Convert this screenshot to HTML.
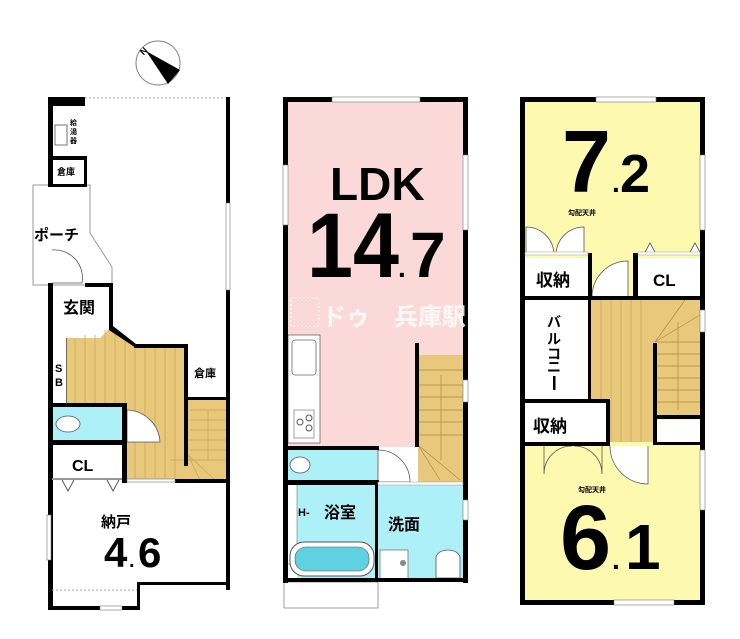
<!DOCTYPE html>
<html><head><meta charset="utf-8"><style>
html,body{margin:0;padding:0;background:#fff;}
svg{display:block;}
text{font-family:"Liberation Sans","Noto Sans CJK JP",sans-serif;font-weight:bold;fill:#000;}
</style></head><body>
<svg width="740" height="639" viewBox="0 0 740 639" xmlns="http://www.w3.org/2000/svg">
<circle cx="158" cy="63" r="22" fill="#fff" stroke="#888" stroke-width="1"/>
<polygon points="146,51 180,70 168,84" fill="#000"/>
<text x="140" y="53" font-size="9" transform="rotate(-45 145 50)">N</text>

<g>
<polygon points="33,185 90,185 90,233 112,267 112,285 33,285" fill="#fff" stroke="#999" stroke-width="1"/>
<line x1="85" y1="98" x2="229" y2="98" stroke="#aaa" stroke-dasharray="2,2"/>
<polygon points="66,338 66,405 127,405 127,480 229,480 229,398 186,398 186,347 135,347 110,328 100,338" fill="#e8c87a"/>
<g stroke="#c9a455" stroke-width="0.7">
<line x1="75" y1="338" x2="75" y2="405"/><line x1="85" y1="335" x2="85" y2="405"/><line x1="95" y1="335" x2="95" y2="405"/>
<line x1="105" y1="330" x2="105" y2="405"/><line x1="115" y1="332" x2="115" y2="405"/><line x1="125" y1="340" x2="125" y2="405"/>
<line x1="135" y1="347" x2="135" y2="480"/><line x1="145" y1="347" x2="145" y2="480"/><line x1="155" y1="347" x2="155" y2="480"/>
<line x1="165" y1="347" x2="165" y2="480"/><line x1="175" y1="347" x2="175" y2="480"/>
<line x1="190" y1="410" x2="226" y2="410"/><line x1="190" y1="420" x2="226" y2="420"/><line x1="190" y1="430" x2="226" y2="430"/>
<line x1="190" y1="440" x2="226" y2="440"/><line x1="190" y1="450" x2="226" y2="450"/><line x1="170" y1="460" x2="226" y2="460"/>
<line x1="188" y1="455" x2="215" y2="480"/><line x1="188" y1="455" x2="200" y2="480"/><line x1="208" y1="410" x2="208" y2="460"/>
</g>
<rect x="52" y="406" width="73" height="37" fill="#aef0f8"/>
<ellipse cx="68" cy="424" rx="12" ry="8" fill="#fff" stroke="#555" stroke-width="0.8"/>
<path d="M127,410 A34,34 0 0 1 160,442 L127,442 Z" fill="#fff" stroke="#555" stroke-width="0.8"/>
<g fill="#000">
<rect x="48" y="97" width="37" height="9"/>
<rect x="48" y="97" width="5" height="90"/>
<rect x="52" y="156" width="35" height="4"/>
<rect x="84" y="156" width="3" height="30"/>
<rect x="48" y="184" width="39" height="3"/>
<rect x="226" y="97" width="4" height="107"/>
<rect x="226" y="290" width="4" height="300"/>
<rect x="48" y="283" width="5" height="327"/>
<rect x="85" y="283" width="28" height="4"/>
<rect x="109" y="283" width="4" height="46"/>
<polygon points="109,326 113,326 136,344 136,348 109,330"/>
<rect x="134" y="344" width="54" height="4"/>
<rect x="184" y="344" width="4" height="122"/>
<rect x="52" y="403" width="75" height="4"/>
<rect x="52" y="440" width="75" height="5"/>
<rect x="122" y="403" width="5" height="80"/>
<rect x="175" y="479" width="55" height="4"/>
<rect x="138" y="582" width="92" height="3"/>
<rect x="137" y="582" width="3" height="28"/>
<rect x="48" y="606" width="92" height="4"/>
</g>
<rect x="55" y="125" width="12" height="20" fill="#fff" stroke="#555" stroke-width="0.8"/>
<rect x="226" y="203" width="4" height="87" fill="#fff" stroke="#777" stroke-width="0.6"/>
<rect x="66" y="338" width="0.8" height="66" fill="#555"/>
<rect x="188" y="397" width="38" height="3" fill="#000"/>
<rect x="127" y="479" width="48" height="3" fill="#fff" stroke="#777" stroke-width="0.6"/>
<rect x="52" y="478" width="70" height="2" fill="#999"/>
<path d="M62,480 L68,491 L74,480 M107,480 L113,491 L119,480" fill="none" stroke="#555"/>
<rect x="47" y="515" width="4" height="45" fill="#fff" stroke="#777" stroke-width="0.6"/>
<rect x="100" y="606" width="22" height="4" fill="#fff" stroke="#777" stroke-width="0.6"/>
<line x1="52" y1="590" x2="137" y2="590" stroke="#aaa" stroke-dasharray="2,2"/>
<path d="M52,250 A28,28 0 0 1 82,283 L52,283" fill="none" stroke="#555" stroke-width="0.8"/>
<text x="70" y="125" font-size="7">給</text><text x="70" y="134" font-size="7">湯</text><text x="70" y="143" font-size="7">器</text>
<text x="57" y="175" font-size="9">倉庫</text>
<text x="34" y="240" font-size="15">ポーチ</text>
<text x="63" y="313" font-size="16">玄関</text>
<text x="55" y="372" font-size="11" font-weight="normal">S</text><text x="55" y="386" font-size="11" font-weight="normal">B</text>
<text x="194" y="377" font-size="11">倉庫</text>
<text x="72" y="471" font-size="16">CL</text>
<text x="101" y="527" font-size="15">納戸</text>
<text x="104" y="567" font-size="42">4</text><text x="129" y="567" font-size="20">.</text><text x="138" y="567" font-size="42">6</text>
</g>

<g>
<rect x="286" y="100" width="180" height="347" fill="#fcd9d9"/>
<rect x="288" y="335" width="32" height="108" fill="#fff" stroke="#666" stroke-width="0.8"/>
<rect x="292" y="340" width="24" height="35" rx="3" fill="#fff" stroke="#666" stroke-width="0.8"/>
<rect x="294" y="410" width="20" height="28" fill="#fff" stroke="#666" stroke-width="0.6"/>
<circle cx="300" cy="422" r="3" fill="none" stroke="#555"/><circle cx="309" cy="418" r="3" fill="none" stroke="#555"/><circle cx="309" cy="428" r="3" fill="none" stroke="#555"/>
<rect x="418" y="355" width="45" height="127" fill="#e8c87a"/>
<g stroke="#b08a40" stroke-width="0.7">
<line x1="418" y1="370" x2="463" y2="370"/><line x1="418" y1="385" x2="463" y2="385"/><line x1="418" y1="397" x2="463" y2="397"/>
<line x1="418" y1="410" x2="463" y2="410"/><line x1="418" y1="422" x2="463" y2="422"/><line x1="418" y1="435" x2="463" y2="435"/>
<line x1="441" y1="375" x2="441" y2="460"/><line x1="418" y1="445" x2="460" y2="480"/><line x1="418" y1="445" x2="440" y2="480"/>
</g>
<rect x="288" y="449" width="90" height="33" fill="#aef0f8"/>
<ellipse cx="300" cy="465" rx="10" ry="8" fill="#fff" stroke="#555" stroke-width="0.8"/>
<path d="M378,450 A32,32 0 0 1 410,482 L378,482 Z" fill="#fff" stroke="#555" stroke-width="0.8"/>
<rect x="297" y="484" width="79" height="94" fill="#aef0f8"/>
<rect x="287" y="484" width="10" height="80" fill="#fff" stroke="#777" stroke-width="0.6"/>
<rect x="378" y="484" width="85" height="96" fill="#aef0f8"/>
<rect x="290" y="542" width="84" height="34" rx="14" fill="#fff" stroke="#555"/>
<rect x="295" y="547" width="74" height="24" rx="11" fill="#5fd1e0" stroke="#555" stroke-width="0.6"/>
<rect x="380" y="550" width="28" height="30" fill="#fff" stroke="#666" stroke-width="0.7"/>
<circle cx="403" cy="563" r="3" fill="#888"/>
<path d="M436,578 L436,558 A12,8 0 0 1 460,558 L460,578 Z" fill="#fff" stroke="#555" stroke-width="0.8"/>
<rect x="284" y="582" width="94" height="26" fill="#fff" stroke="#888" stroke-width="0.8"/>
<g fill="#000">
<rect x="283" y="97" width="185" height="5"/>
<rect x="283" y="97" width="5" height="486"/>
<rect x="463" y="97" width="5" height="486"/>
<rect x="415" y="343" width="4" height="104"/>
<rect x="283" y="446" width="96" height="4"/>
<rect x="283" y="480" width="96" height="5"/>
<rect x="375" y="480" width="3" height="100"/>
<rect x="283" y="578" width="185" height="4"/>
</g>
<rect x="332" y="97" width="88" height="5" fill="#fff" stroke="#777" stroke-width="0.6"/>
<rect x="283" y="165" width="5" height="60" fill="#fff" stroke="#777" stroke-width="0.6"/>
<rect x="463" y="155" width="5" height="75" fill="#fff" stroke="#777" stroke-width="0.6"/>
<rect x="463" y="380" width="5" height="22" fill="#fff" stroke="#777" stroke-width="0.6"/>
<rect x="463" y="500" width="5" height="20" fill="#fff" stroke="#777" stroke-width="0.6"/>
<rect x="378" y="482" width="85" height="3" fill="#fff" stroke="#999" stroke-width="0.5"/>
<rect x="291" y="298" width="28" height="28" fill="none" stroke="#fff" stroke-width="1" stroke-dasharray="2,2"/>
<text x="322" y="325" font-size="24" font-weight="normal" style="fill:#fff" opacity="0.85">ドゥ　兵庫駅</text>
<text x="330" y="200" font-size="46">LDK</text>
<text x="307" y="277" font-size="92" textLength="92" lengthAdjust="spacingAndGlyphs">14</text>
<text x="398" y="277" font-size="28">.</text>
<text x="410" y="277" font-size="64">7</text>
<text x="324" y="518" font-size="16">浴室</text>
<text x="388" y="530" font-size="16">洗面</text>
<text x="298" y="516" font-size="11" font-weight="normal">H-</text>
</g>

<g>
<rect x="522" y="100" width="180" height="505" fill="#fdfab0"/>
<rect x="525" y="258" width="63" height="39" fill="#fff"/>
<rect x="638" y="258" width="62" height="39" fill="#fff"/>
<rect x="523" y="300" width="65" height="100" fill="#fff"/>
<rect x="591" y="300" width="64" height="142" fill="#e8c87a"/>
<g stroke="#c9a455" stroke-width="0.7">
<line x1="601" y1="300" x2="601" y2="442"/><line x1="611" y1="300" x2="611" y2="442"/><line x1="621" y1="300" x2="621" y2="442"/>
<line x1="631" y1="300" x2="631" y2="442"/><line x1="641" y1="300" x2="641" y2="442"/>
</g>
<rect x="655" y="300" width="45" height="115" fill="#e8c87a"/>
<g stroke="#b08a40" stroke-width="0.7">
<line x1="657" y1="342" x2="700" y2="342"/><line x1="657" y1="354" x2="700" y2="354"/><line x1="657" y1="366" x2="700" y2="366"/>
<line x1="657" y1="378" x2="700" y2="378"/><line x1="657" y1="390" x2="700" y2="390"/><line x1="657" y1="402" x2="700" y2="402"/>
<line x1="655" y1="342" x2="685" y2="300"/><line x1="655" y1="342" x2="700" y2="315"/><line x1="678" y1="322" x2="678" y2="410"/>
</g>
<rect x="525" y="402" width="82" height="40" fill="#fff"/>
<rect x="657" y="420" width="43" height="24" fill="#fff"/>
<path d="M526,255 L526,227 A28,28 0 0 1 554,255 M584,255 L584,227 A28,28 0 0 0 556,255" fill="#fff" stroke="#555" stroke-width="0.8"/>
<path d="M592,297 A36,36 0 0 1 628,261 L628,297 Z" fill="#fff" stroke="#555" stroke-width="0.8"/>
<path d="M644,254 L650,243 L656,254 M689,254 L695,243 L701,254" fill="#fff" stroke="#555" stroke-width="0.8"/>
<path d="M544,445 L544,474 A28,28 0 0 1 572,446 M602,445 L602,474 A28,28 0 0 0 574,446" fill="none" stroke="#555" stroke-width="0.8"/>
<path d="M610,446 A38,38 0 0 0 648,484 L648,446" fill="#fff" stroke="#555" stroke-width="0.8"/>
<g fill="#000">
<rect x="520" y="97" width="185" height="5"/>
<rect x="520" y="97" width="5" height="508"/>
<rect x="700" y="97" width="5" height="508"/>
<rect x="520" y="600" width="185" height="5"/>
<rect x="588" y="253" width="4" height="47"/>
<rect x="633" y="253" width="5" height="47"/>
<rect x="520" y="296" width="185" height="4"/>
<rect x="588" y="300" width="3" height="100"/>
<rect x="520" y="399" width="90" height="4"/>
<rect x="606" y="399" width="4" height="46"/>
<rect x="520" y="442" width="90" height="4"/>
<rect x="653" y="343" width="4" height="102"/>
<rect x="655" y="415" width="50" height="4"/>
<rect x="655" y="442" width="50" height="3"/>
</g>
<rect x="596" y="97" width="60" height="5" fill="#fff" stroke="#777" stroke-width="0.6"/>
<rect x="700" y="155" width="5" height="75" fill="#fff" stroke="#777" stroke-width="0.6"/>
<rect x="700" y="310" width="5" height="22" fill="#fff" stroke="#777" stroke-width="0.6"/>
<rect x="700" y="450" width="5" height="60" fill="#fff" stroke="#777" stroke-width="0.6"/>
<rect x="614" y="600" width="60" height="5" fill="#fff" stroke="#777" stroke-width="0.6"/>
<rect x="525" y="252" width="63" height="3" fill="#fff" stroke="#999" stroke-width="0.5"/>
<rect x="638" y="252" width="62" height="3" fill="#fff" stroke="#999" stroke-width="0.5"/>
<text x="562" y="192" font-size="88">7</text>
<text x="612" y="192" font-size="28">.</text>
<text x="620" y="192" font-size="54">2</text>
<text x="568" y="215" font-size="7" font-weight="normal">勾配天井</text>
<text x="578" y="492" font-size="7" font-weight="normal">勾配天井</text>
<text x="536" y="286" font-size="17">収納</text>
<text x="653" y="286" font-size="17">CL</text>
<text x="533" y="432" font-size="17">収納</text>
<g font-size="14"><text x="547" y="327">バ</text><text x="547" y="344">ル</text><text x="547" y="359">コ</text><text x="547" y="372">ニ</text></g>
<rect x="553" y="376" width="2.5" height="14" fill="#000"/>
<text x="560" y="569" font-size="92">6</text>
<text x="612" y="569" font-size="28">.</text>
<text x="625" y="569" font-size="64">1</text>
</g>
</svg>
</body></html>
